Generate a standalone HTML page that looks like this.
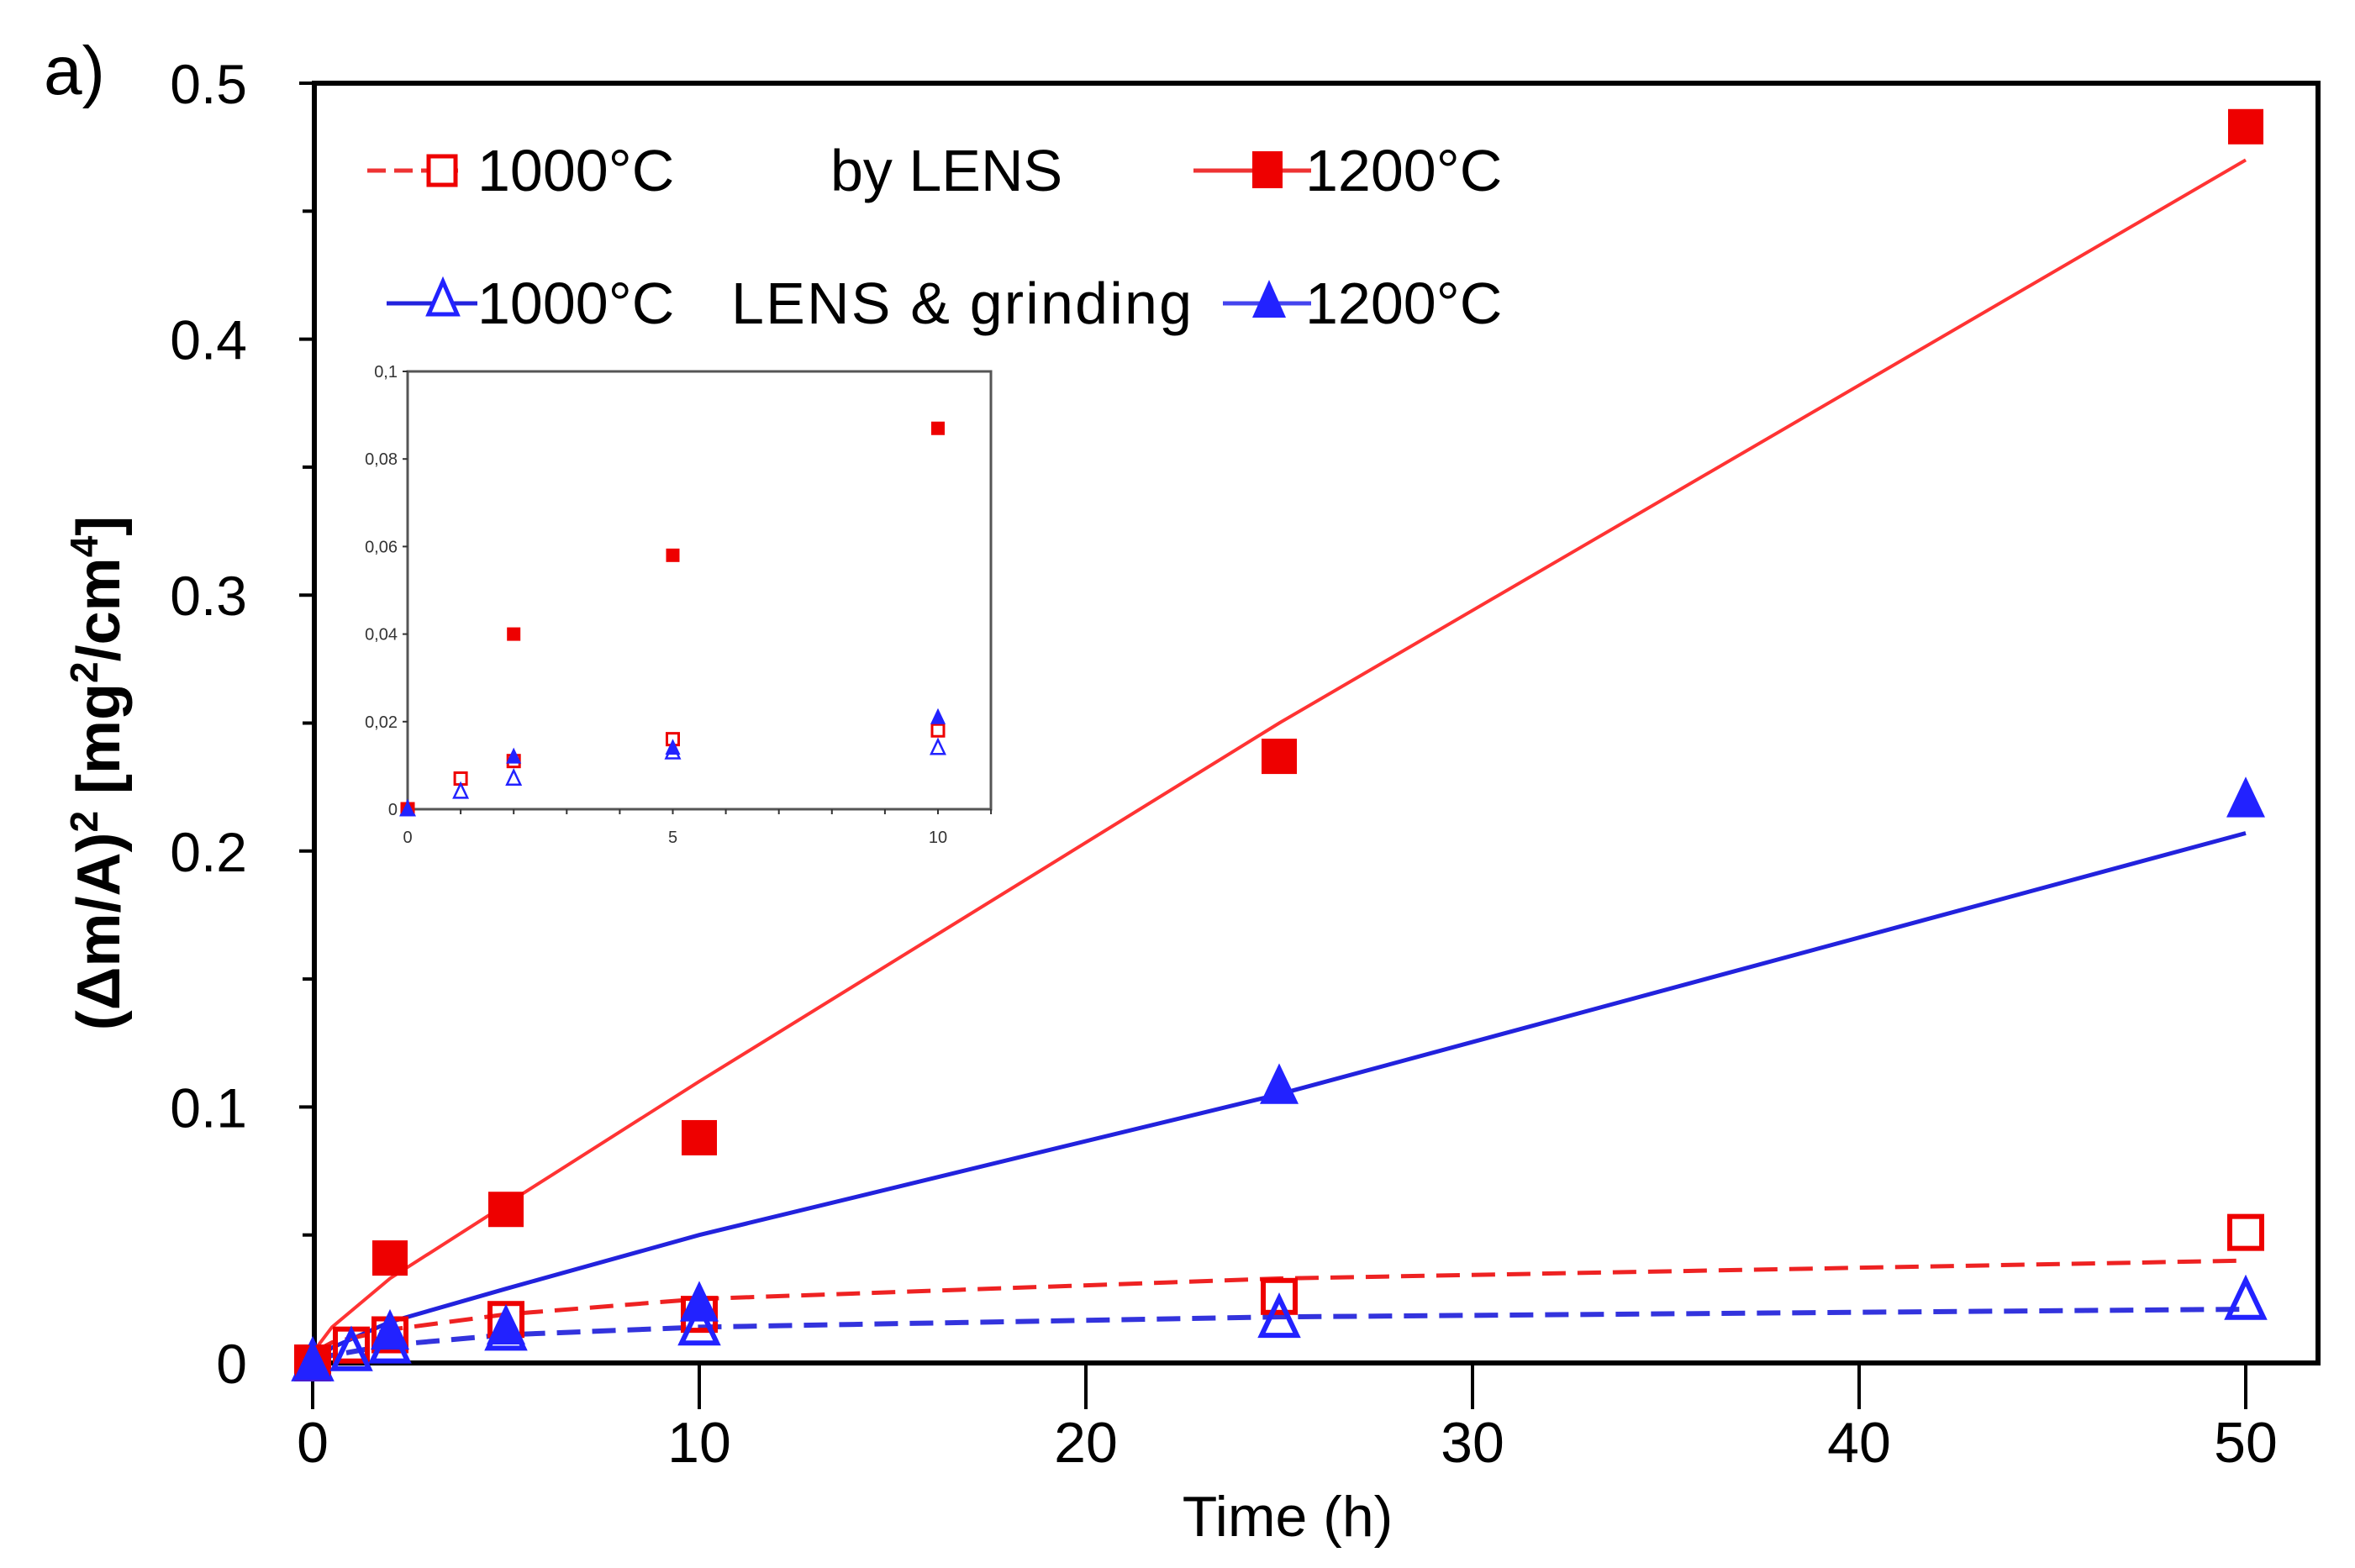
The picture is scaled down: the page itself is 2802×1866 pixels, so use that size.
<!DOCTYPE html>
<html><head><meta charset="utf-8"><style>
html,body{margin:0;padding:0;background:#fff;}
svg{display:block;}
text{font-family:"Liberation Sans",sans-serif;}
</style></head><body>
<svg id="chart" width="2802" height="1866" viewBox="0 0 2802 1866" xmlns="http://www.w3.org/2000/svg">
<text x="52" y="112" font-size="82" fill="#000">a)</text>
<g id="main"></g>
<g id="inset"></g>
<g id="legend">
  <line x1="437" y1="203" x2="545" y2="203" stroke="#e33" stroke-width="5" stroke-dasharray="22,10"/>
  <rect x="510" y="186" width="32" height="34" fill="#fff" stroke="#e00" stroke-width="5"/>
  <text x="568" y="227" font-size="70">1000°C</text>
  <text x="988" y="227" font-size="70">by LENS</text>
  <line x1="1420" y1="203" x2="1560" y2="203" stroke="#e33" stroke-width="5"/>
  <rect x="1490" y="180" width="36" height="44" fill="#e00"/>
  <text x="1553" y="227" font-size="70">1200°C</text>
  <line x1="460" y1="361" x2="568" y2="361" stroke="#22d" stroke-width="5"/>
  <polygon points="527,335 510,374 544,374" fill="#fff" stroke="#22f" stroke-width="5"/>
  <text x="568" y="385" font-size="70">1000°C</text>
  <text x="870" y="385" font-size="70" textLength="548">LENS &amp; grinding</text>
  <line x1="1455" y1="361" x2="1560" y2="361" stroke="#44e" stroke-width="5"/>
  <polygon points="1510,333 1490,378 1530,378" fill="#22f"/>
  <text x="1553" y="385" font-size="70">1200°C</text>
</g>
</svg>
<script>
// main chart data
const mainXTicks = [0,10,20,30,40,50];
const mainYTicks = [0,0.1,0.2,0.3,0.4,0.5];
const mainYLabels = ["0","0.1","0.2","0.3","0.4","0.5"];
const t1200Lens = [0,2,5,10,25,50];
const v1200Lens = [0,0.041,0.060,0.088,0.237,0.483];
const t1000Lens = [0,1,2,5,10,25,50];
const v1000Lens = [0,0.007,0.011,0.017,0.019,0.026,0.051];
const t1000Grind = [0,1,2,5,10,25,50];
const v1000Grind = [0,0.004,0.007,0.012,0.014,0.017,0.024];
const t1200Grind = [0,2,5,10,25,50];
const v1200Grind = [0,0.012,0.014,0.023,0.108,0.220];
const fitT = [0,0.5,2,5,10,25,50];
const fit1200Lens = [0.004,0.014,0.033,0.062,0.11,0.25,0.47];
const fit1200Grind = [0,0.006,0.016,0.029,0.05,0.105,0.207];
const fit1000Lens = [0.004,0.008,0.013,0.019,0.025,0.033,0.04];
const fit1000Grind = [0,0.003,0.007,0.011,0.014,0.018,0.021];
// inset data
const insXTicks = [0,5,10];
const insYTicks = [0,0.02,0.04,0.06,0.08,0.1];
const insYLabels = ["0","0,02","0,04","0,06","0,08","0,1"];
const insT1200Lens = [0,2,5,10];
const insV1200Lens = [0,0.040,0.058,0.087];
const insT1000Lens = [0,1,2,5,10];
const insV1000Lens = [0,0.007,0.011,0.016,0.018];
const insT1000Grind = [0,1,2,5,10];
const insV1000Grind = [0,0.004,0.007,0.013,0.014];
const insT1200Grind = [0,2,5,10];
const insV1200Grind = [0,0.012,0.014,0.021];

const NS="http://www.w3.org/2000/svg";
function mk(parent,tag,attrs){const e=document.createElementNS(NS,tag);for(const k in attrs)e.setAttribute(k,attrs[k]);parent.appendChild(e);return e;}

const L=374,R=2758,T=99,B=1622;
const X=t=>372+t*46.0;
const Y=v=>1622-v*3046;
const main=document.getElementById('main');

mainYTicks.forEach((v,i)=>{
  const tk=mk(main,'line',{x1:L-18,x2:L,y1:Y(v),y2:Y(v),stroke:'#000','stroke-width':4});
  
  
  const tx=mk(main,'text',{x:L-80,y:Y(v)+24,'font-size':66,'text-anchor':'end'});
  tx.textContent=mainYLabels[i];
  
  
  if(i<mainYTicks.length-1){
    const m=mk(main,'line',{x1:L-14,x2:L,y1:Y(v+0.05),y2:Y(v+0.05),stroke:'#000','stroke-width':4});
    
    
  }
});
mainXTicks.forEach(t=>{
  const tk=mk(main,'line',{x1:X(t),x2:X(t),y1:B,y2:B+55,stroke:'#000','stroke-width':4});
  
  
  const tx=mk(main,'text',{x:X(t),y:B+118,'font-size':68,'text-anchor':'middle'});
  tx.textContent=String(t);
  
  
});
const frame=mk(main,'rect',{x:L,y:T,width:R-L,height:B-T,fill:'none',stroke:'#000','stroke-width':6});


const xt=mk(main,'text',{x:1532,y:1828,'font-size':68,'text-anchor':'middle'});
xt.textContent='Time (h)';


const yt=mk(main,'text',{x:0,y:0,'font-size':72,'font-weight':'bold','text-anchor':'middle',transform:'translate(142,920) rotate(-90)'});
yt.innerHTML='(Δm/A)<tspan font-size="46" dy="-26">2</tspan><tspan dy="26"> [mg</tspan><tspan font-size="46" dy="-26">2</tspan><tspan dy="26">/cm</tspan><tspan font-size="46" dy="-26">4</tspan><tspan dy="26">]</tspan>';



function line(g,ts,vs,xf,yf,color,w,dash,name){
  const p=mk(g,'polyline',{points:ts.map((t,i)=>xf(t)+','+yf(vs[i])).join(' '),fill:'none',stroke:color,'stroke-width':w});
  if(dash)p.setAttribute('stroke-dasharray',dash);
  
  
}
function markers(g,ts,vs,xf,yf,shape,filled,color,s,sw,name){
  ts.forEach((t,i)=>{
    const x=xf(t),y=yf(vs[i]);let e;
    if(shape==='sq')e=mk(g,'rect',{x:x-s/2,y:y-s/2,width:s,height:s});
    else e=mk(g,'polygon',{points:`${x},${y-s*0.6} ${x-s/2},${y+s*0.45} ${x+s/2},${y+s*0.45}`});
    e.setAttribute('fill',filled?color:'none');
    if(!filled){e.setAttribute('stroke',color);e.setAttribute('stroke-width',sw);}
    
    
  });
}
line(main,fitT,fit1200Lens,X,Y,'#f33',4,null,'fit-1200-lens');
line(main,fitT,fit1200Grind,X,Y,'#22d',5,null,'fit-1200-grinding');
line(main,fitT,fit1000Lens,X,Y,'#e22',5,'28,14','fit-1000-lens');
line(main,fitT,fit1000Grind,X,Y,'#33d',6,'28,14','fit-1000-grinding');
markers(main,t1000Lens,v1000Lens,X,Y,'sq',false,'#e00',38,6,'point-1000-lens');
markers(main,t1000Grind,v1000Grind,X,Y,'tri',false,'#22f',42,6,'point-1000-grinding');
markers(main,t1200Lens,v1200Lens,X,Y,'sq',true,'#e00',42,0,'point-1200-lens');
markers(main,t1200Grind,v1200Grind,X,Y,'tri',true,'#22f',46,0,'point-1200-grinding');

// inset
const iL=485,iR=1179,iT=442,iB=963;
const IX=t=>485+t*63.1;
const IY=v=>963-v*5210;
const ins=document.getElementById('inset');
const bg=mk(ins,'rect',{x:iL,y:iT,width:iR-iL,height:iB-iT,fill:'#fff',stroke:'#555','stroke-width':3});


insYTicks.forEach((v,i)=>{
  const tk=mk(ins,'line',{x1:iL-6,x2:iL,y1:IY(v),y2:IY(v),stroke:'#333','stroke-width':2});
  
  
  const tx=mk(ins,'text',{x:iL-12,y:IY(v)+7,'font-size':20,'text-anchor':'end',fill:'#333'});
  tx.textContent=insYLabels[i];
  
  
});
for(let t=1;t<=11;t++){
  const m=mk(ins,'line',{x1:IX(t),x2:IX(t),y1:iB,y2:iB+6,stroke:'#333','stroke-width':2});
  
  
}
insXTicks.forEach(t=>{
  const tx=mk(ins,'text',{x:IX(t),y:iB+40,'font-size':20,'text-anchor':'middle',fill:'#333'});
  tx.textContent=String(t);
  
  
});
markers(ins,insT1000Lens,insV1000Lens,IX,IY,'sq',false,'#e00',14,3,'inset-point-1000-lens');
markers(ins,insT1000Grind,insV1000Grind,IX,IY,'tri',false,'#22f',16,2.5,'inset-point-1000-grinding');
markers(ins,insT1200Lens,insV1200Lens,IX,IY,'sq',true,'#e00',16,0,'inset-point-1200-lens');
markers(ins,insT1200Grind,insV1200Grind,IX,IY,'tri',true,'#22f',18,0,'inset-point-1200-grinding');
</script>
</body></html>
